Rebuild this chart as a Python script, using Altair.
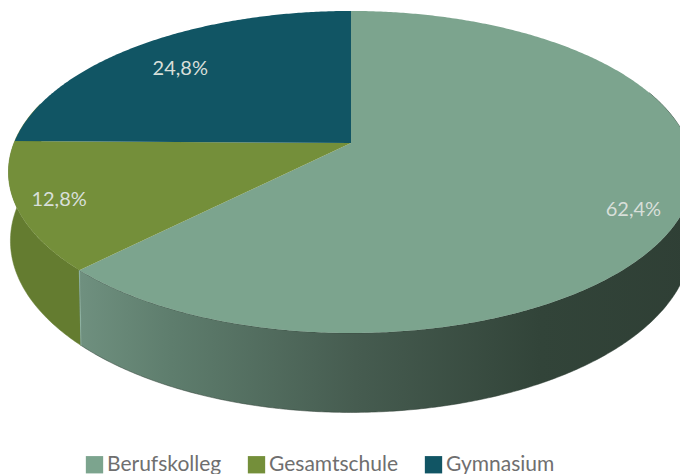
import math
import altair as alt
import pandas as pd

categories = ["Berufskolleg", "Gesamtschule", "Gymnasium"]
shares = [62.4, 12.8, 24.8]
labels = ["62,4%", "12,8%", "24,8%"]
colors = ["#7ca48e", "#748f3a", "#115564"]

# perspective of the disc
CX, TOP_CY, TOP_A, TOP_B = 351.0, 143.0, 337.0, 155.8
BOT_CY, BOT_A, BOT_B = 210.0, 335.0, 166.0
K = 0.18
LABEL_R = [0.87, 0.88, 0.77]
LABEL_SHIFT = [4.0, 0.0, -1.5]


def project(deg, r=1.0, cy=TOP_CY, a=TOP_A, b=TOP_B):
    t = math.radians(deg)
    u, v = r * math.sin(t), r * math.cos(t)
    d = 1 + K * v
    return CX + a * u / d, cy - b * v / d


def arc(d0, d1, **kw):
    n = max(2, int(abs(d1 - d0) * 2))
    return [project(d0 + (d1 - d0) * i / n, **kw) for i in range(n + 1)]


spans = []
start = 0.0
for s in shares:
    spans.append((start, start + s * 3.6))
    start += s * 3.6

top_rows = []
for name, (a0, a1) in zip(categories, spans):
    pts = [(CX, TOP_CY)] + arc(a0, a1) + [(CX, TOP_CY)]
    for i, (x, y) in enumerate(pts):
        top_rows.append({"slice": name, "i": i, "x": x, "y": y})
top = pd.DataFrame(top_rows)


def wall(a0, a1):
    bot = dict(cy=BOT_CY, a=BOT_A, b=BOT_B)
    pts = arc(a0, a1) + arc(a1, a0, **bot)
    pts.append(pts[0])
    return pd.DataFrame([{"i": i, "x": x, "y": y} for i, (x, y) in enumerate(pts)])


split = spans[0][1]
main_wall = wall(70, split)
green_wall = wall(split, 285)
sx, sy = project(split)
bx, by = project(split, cy=BOT_CY, a=BOT_A, b=BOT_B)
seam = pd.DataFrame({"i": [0, 1], "x": [sx, bx], "y": [sy, by]})

lab = []
for name, text, (a0, a1), r, sh in zip(categories, labels, spans, LABEL_R, LABEL_SHIFT):
    x, y = project((a0 + a1) / 2 + sh, r=r)
    lab.append({"x": x, "y": y, "t": text})
lab = pd.DataFrame(lab)

X = alt.X("x:Q", scale=alt.Scale(domain=[8, 680], nice=False, zero=False), axis=None)
Y = alt.Y("y:Q", scale=alt.Scale(domain=[474, 8], nice=False, zero=False), axis=None)

gradient = alt.Gradient(
    gradient="linear", x1=0, x2=1, y1=0, y2=0,
    stops=[
        alt.GradientStop(offset=0.0, color="#6f907f"),
        alt.GradientStop(offset=0.15, color="#5e7d6d"),
        alt.GradientStop(offset=0.45, color="#465c50"),
        alt.GradientStop(offset=0.75, color="#324439"),
        alt.GradientStop(offset=1.0, color="#2f3f35"),
    ],
)

l_main = alt.Chart(main_wall).mark_line(fill=gradient, stroke="#2f3f35", strokeWidth=0.5).encode(
    x=X, y=Y, order="i:Q")
l_green = alt.Chart(green_wall).mark_line(fill="#647c30", stroke="#647c30", strokeWidth=0.5).encode(
    x=X, y=Y, order="i:Q")
l_seam = alt.Chart(seam).mark_line(stroke="#8db0a0", strokeWidth=1.2).encode(x=X, y=Y, order="i:Q")
l_top = alt.Chart(top).mark_line(strokeWidth=0).encode(
    x=X, y=Y, order="i:Q",
    fill=alt.Fill(
        "slice:N",
        scale=alt.Scale(domain=categories, range=colors),
        legend=alt.Legend(
            title=None, orient="none", legendX=76, legendY=446, direction="horizontal",
            symbolType="square", symbolSize=300, symbolStrokeWidth=0, symbolOpacity=1,
            labelFont="Lato", labelFontSize=21, labelColor="#6f6f6f",
            labelOffset=2, columnPadding=24, padding=0, labelLimit=200,
        ),
    ),
)
l_text = alt.Chart(lab).mark_text(font="Lato", fontSize=20, color="#d8dfd9", dy=2).encode(
    x=X, y=Y, text="t:N")

chart = (
    alt.layer(l_green, l_main, l_seam, l_top, l_text)
    .properties(width=672, height=466, padding=0, autosize=alt.AutoSizeParams(type="none"))
    .configure_view(stroke=None)
)
chart.save("out.html", embed_options={"renderer": "svg", "actions": False})
